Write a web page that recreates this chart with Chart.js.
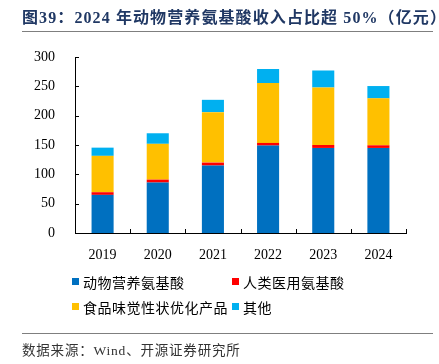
<!DOCTYPE html>
<html>
<head>
<meta charset="utf-8">
<script src="https://cdn.jsdelivr.net/npm/chart.js@4/dist/chart.umd.min.js"></script>
<style>
  body { margin: 0; width: 439px; height: 364px; background: #fff; position: relative; overflow: hidden; }
  #wrap { position: absolute; left: 0; top: 0; width: 439px; height: 364px; }
  .title { position: absolute; left: 22px; top: 4px; font: bold 16px 'Liberation Serif', 'Noto Sans CJK SC', serif; color: #203864; white-space: nowrap; letter-spacing: 1.1px; }
  .rule { position: absolute; left: 22px; width: 411px; height: 0; border-top: 1.5px solid #7f7f7f; }
  #legend { position: absolute; left: 72px; top: 272px; display: grid; grid-template-columns: 160px 160px; row-gap: 6px; font: 14px 'Noto Sans CJK SC', sans-serif; color: #000; letter-spacing: 0.5px; }
  #legend div { display: flex; align-items: center; height: 19px; white-space: nowrap; }
  #legend span.box { width: 7px; height: 7px; margin-right: 4px; display: inline-block; }
  .source { position: absolute; left: 22px; top: 339px; font: 13.5px 'Liberation Serif', 'Noto Sans CJK SC', serif; color: #333; white-space: nowrap; letter-spacing: 0.8px; }
</style>
</head>
<body>
<div id="wrap"><canvas id="chart"></canvas></div>
<div class="title">图39：2024 年动物营养氨基酸收入占比超 50%（亿元）</div>
<div class="rule" style="top:31px"></div>
<div id="legend"></div>
<div class="rule" style="top:333px"></div>
<div class="source">数据来源：Wind、开源证券研究所</div>
<script>
const years = ['2019', '2020', '2021', '2022', '2023', '2024'];
const animalNutrition = [65, 86, 115, 149, 145, 145];
const humanMedical = [4.5, 5, 5, 4.5, 5, 4.5];
const foodTaste = [62, 61, 86, 102, 98, 80];
const others = [14, 18, 21, 24, 29, 21];

const seriesNames = ['动物营养氨基酸', '人类医用氨基酸', '食品味觉性状优化产品', '其他'];
const seriesColors = ['#0070C0', '#FF0000', '#FFC000', '#00B0F0'];
const seriesValues = [animalNutrition, humanMedical, foodTaste, others];

// small tick marks pointing into the plot, like the original
const innerTicks = {
  id: 'innerTicks',
  afterDraw(chart) {
    const ctx = chart.ctx;
    const area = chart.chartArea;
    const x = chart.scales.x, y = chart.scales.y;
    ctx.save();
    ctx.strokeStyle = '#000';
    ctx.lineWidth = 1;
    ctx.beginPath();
    y.ticks.forEach(t => {
      const py = Math.round(y.getPixelForValue(t.value)) + 0.5;
      ctx.moveTo(area.left, py);
      ctx.lineTo(area.left + 4, py);
    });
    for (let i = 0; i < years.length; i++) {
      const px = Math.round(i < years.length - 1
        ? (x.getPixelForTick(i) + x.getPixelForTick(i + 1)) / 2
        : area.right) + 0.5;
      ctx.moveTo(px, area.bottom);
      ctx.lineTo(px, area.bottom - 4);
    }
    ctx.stroke();
    ctx.restore();
  }
};

const chart = new Chart(document.getElementById('chart'), {
  type: 'bar',
  data: {
    labels: years,
    datasets: seriesNames.map((name, i) => ({
      label: name,
      data: seriesValues[i],
      backgroundColor: seriesColors[i],
      borderWidth: 0,
      categoryPercentage: 1,
      barPercentage: 0.4
    }))
  },
  options: {
    responsive: true,
    maintainAspectRatio: false,
    animation: false,
    layout: { padding: { left: 0, right: 33, top: 57, bottom: 100 } },
    plugins: { legend: { display: false }, tooltip: { enabled: false } },
    scales: {
      x: {
        stacked: true,
        grid: { display: false },
        border: { display: true, color: '#000', width: 1 },
        ticks: { color: '#000', font: { family: 'Liberation Serif', size: 14 }, padding: 6 },
        afterFit(s) { s.height = 31; }
      },
      y: {
        stacked: true,
        min: 0,
        max: 300,
        grid: { display: false },
        border: { display: true, color: '#000', width: 1 },
        ticks: { stepSize: 50, color: '#000', font: { family: 'Liberation Serif', size: 14 }, padding: 12 },
        afterFit(s) { s.width = 75; }
      }
    }
  },
  plugins: [innerTicks]
});

// legend built from the chart's datasets
const legend = document.getElementById('legend');
chart.data.datasets.forEach(ds => {
  const item = document.createElement('div');
  item.innerHTML = `<span class="box" style="background:${ds.backgroundColor}"></span>${ds.label}`;
  legend.appendChild(item);
});
</script>
</body>
</html>
